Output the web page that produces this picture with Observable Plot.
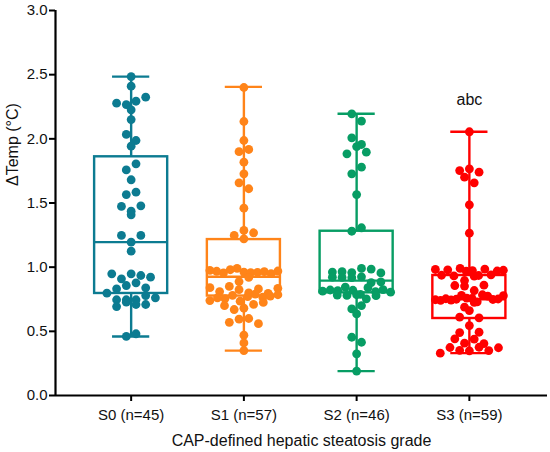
<!DOCTYPE html>
<html>
<head>
<meta charset="utf-8">
<script src="https://cdn.jsdelivr.net/npm/d3@7"></script>
<script src="https://cdn.jsdelivr.net/npm/@observablehq/plot@0.6"></script>
<style>
  html, body { margin: 0; padding: 0; background: #fff; }
  svg { display: block; }
</style>
</head>
<body>
<div id="chart"></div>
<script>
// ---- data ----
const groups = ["S0", "S1", "S2", "S3"];
const groupLabels = ["S0 (n=45)", "S1 (n=57)", "S2 (n=46)", "S3 (n=59)"];
const colors = ["#0c7b91", "#ff8419", "#079d64", "#ff0000"];
const yTicks = [0, 0.5, 1.0, 1.5, 2.0, 2.5, 3.0];

const s0Values = [2.485, 2.41, 2.325, 2.293, 2.278, 2.267, 2.226, 2.15, 2.034, 1.987, 1.943,
  1.805, 1.758, 1.681, 1.584, 1.566, 1.478, 1.473, 1.436, 1.408, 1.247, 1.247, 1.195, 1.125,
  0.948, 0.948, 0.935, 0.922, 0.909, 0.878, 0.857, 0.839, 0.831, 0.797, 0.779, 0.761, 0.746,
  0.746, 0.746, 0.727, 0.709, 0.709, 0.693, 0.481, 0.46];
const s1Values = [2.40, 2.135, 1.987, 1.917, 1.90, 1.818, 1.727, 1.657, 1.611, 1.46, 1.286,
  1.268, 1.247, 1.221,
  0.99, 0.98, 0.975, 0.97, 0.968, 0.965, 0.962, 0.96, 0.958, 0.955, 0.95, 0.92,
  0.888, 0.85, 0.84, 0.835, 0.83, 0.825, 0.81, 0.80, 0.795, 0.79, 0.785,
  0.78, 0.775, 0.77, 0.766, 0.76, 0.755, 0.74, 0.735, 0.725, 0.71, 0.70,
  0.68, 0.67, 0.60, 0.595, 0.57, 0.56, 0.47, 0.41, 0.35];
const s2Values = [2.195, 2.138, 2.008, 1.956, 1.94, 1.896, 1.883, 1.779, 1.727, 1.566, 1.307, 1.28,
  0.99, 0.985, 0.965, 0.962, 0.958, 0.955, 0.925, 0.922, 0.92, 0.918, 0.885, 0.88, 0.845, 0.84,
  0.825, 0.822, 0.82, 0.817, 0.813, 0.81, 0.805, 0.788, 0.785, 0.783, 0.78, 0.778,
  0.753, 0.701, 0.675, 0.636, 0.454, 0.415, 0.325, 0.19];
const s3Values = [2.055, 1.766, 1.753, 1.74, 1.701, 1.657, 1.486, 1.265,
  0.99, 0.985, 0.982, 0.979, 0.976, 0.973, 0.97, 0.968, 0.94, 0.937, 0.935, 0.932, 0.93,
  0.896, 0.86, 0.857, 0.853, 0.818, 0.785, 0.78, 0.778, 0.775,
  0.758, 0.756, 0.754, 0.752, 0.75, 0.748, 0.746, 0.744, 0.742, 0.73, 0.725,
  0.688, 0.662, 0.61, 0.605, 0.545, 0.493, 0.49, 0.442, 0.44, 0.408, 0.405,
  0.376, 0.374, 0.372, 0.352, 0.35, 0.348, 0.33];

// box statistics (min, Q1, median, Q3, max)
const boxMin = [0.46, 0.35, 0.19, 0.33];
const boxQ1 = [0.795, 0.775, 0.80, 0.60];
const boxMedian = [1.195, 0.925, 0.895, 0.75];
const boxQ3 = [1.86, 1.215, 1.28, 0.935];
const boxMax = [2.485, 2.405, 2.195, 2.055];
const annotations = [{group: 3, text: "abc"}];

// ---- layout ----
const W = 550, H = 452, mL = 55, mR = 3, mT = 10, mB = 57;
const xDomain = [-0.671, 3.693];
const yDomain = [0, 3];
const pxPerX = (W - mL - mR) / (xDomain[1] - xDomain[0]);
const pxPerY = (H - mT - mB) / (yDomain[1] - yDomain[0]);
const boxHalf = 0.324, capHalf = 0.165;

// swarm layout: group close values into rows, spread each row symmetrically
function swarm(values, gi) {
  const sorted = values.map(v => ({v})).sort((a, b) => b.v - a.v);
  const rows = [];
  let cur = null;
  for (const d of sorted) {
    const py = -d.v * pxPerY;
    if (cur && py - cur.y0 < 7.5) cur.items.push(d);
    else { cur = {y0: py, items: [d]}; rows.push(cur); }
  }
  const out = [];
  for (const row of rows) {
    const n = row.items.length;
    let sp = 9.7;
    if ((n - 1) * sp > 68) sp = 68 / (n - 1);
    // slots ordered centre-out
    const slots = d3.range(n).map(i => i - (n - 1) / 2).sort((a, b) => Math.abs(a) - Math.abs(b) || a - b);
    const order = d3.shuffler(d3.randomLcg(0.3 + gi * 0.1 + row.y0 * 0.001))(row.items.slice());
    order.forEach((d, i) => out.push({group: groups[gi], x: gi + slots[i] * sp / pxPerX, v: d.v}));
  }
  return out;
}
const allValues = [s0Values, s1Values, s2Values, s3Values];
const points = allValues.flatMap((vals, gi) => swarm(vals, gi));

const stats = groups.map((g, i) => ({
  group: g, i, min: boxMin[i], q1: boxQ1[i], median: boxMedian[i], q3: boxQ3[i], max: boxMax[i]
}));

const font = "'Liberation Sans', Arial, Helvetica, sans-serif";
const lw = 2.4;

const chart = Plot.plot({
  width: W, height: H,
  marginLeft: mL, marginRight: mR, marginTop: mT, marginBottom: mB,
  style: {fontFamily: font, background: "#fff", color: "#111", overflow: "visible"},
  x: {domain: xDomain},
  y: {domain: yDomain},
  color: {domain: groups, range: colors},
  marks: [
    // boxes
    Plot.rect(stats, {x1: d => d.i - boxHalf, x2: d => d.i + boxHalf, y1: "q1", y2: "q3",
      stroke: "group", fill: "none", strokeWidth: lw}),
    Plot.ruleY(stats, {y: "median", x1: d => d.i - boxHalf, x2: d => d.i + boxHalf,
      stroke: "group", strokeWidth: lw}),
    Plot.ruleX(stats, {x: "i", y1: "min", y2: "q1", stroke: "group", strokeWidth: lw}),
    Plot.ruleX(stats, {x: "i", y1: "q3", y2: "max", stroke: "group", strokeWidth: lw}),
    Plot.ruleY(stats, {y: "max", x1: d => d.i - capHalf, x2: d => d.i + capHalf,
      stroke: "group", strokeWidth: lw}),
    Plot.ruleY(stats, {y: "min", x1: d => d.i - capHalf, x2: d => d.i + capHalf,
      stroke: "group", strokeWidth: lw}),
    // points
    Plot.dot(points, {x: "x", y: "v", r: 4.4, fill: "group", stroke: "none"}),
    // axes
    Plot.ruleY([yDomain[0]], {stroke: "#000", strokeWidth: 2.2}),
    Plot.ruleX([xDomain[0]], {y1: yDomain[0], y2: yDomain[1], stroke: "#000", strokeWidth: 2.2}),
    Plot.axisY({ticks: yTicks, tickFormat: d3.format(".1f"), tickSize: 6, tickPadding: 2,
      fontSize: 15, label: null, strokeWidth: 2, stroke: "#000", fill: "#111"}),
    Plot.axisX({ticks: [0, 1, 2, 3], tickFormat: i => groupLabels[i], tickSize: 6, tickPadding: 8,
      fontSize: 15, label: null, strokeWidth: 2, stroke: "#000", fill: "#111"}),
    Plot.text(["CAP-defined hepatic steatosis grade"], {frameAnchor: "bottom", dy: 50,
      fontSize: 16, fill: "#111"}),
    Plot.text(["ΔTemp (°C)"], {frameAnchor: "left", dx: -43, dy: -17, rotate: -90,
      fontSize: 16, fill: "#111"}),
    Plot.text(annotations, {x: "group", y: d => boxMax[d.group] + 0.245, text: "text",
      fontSize: 16, fill: "#111"})
  ]
});
document.getElementById("chart").appendChild(chart);
</script>
</body>
</html>
